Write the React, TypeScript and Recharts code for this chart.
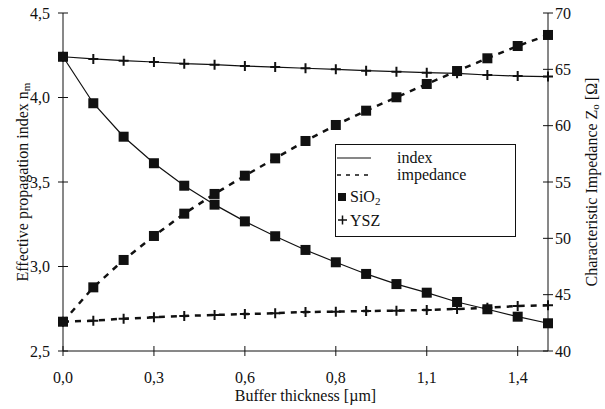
import { Legend, Line, LineChart, XAxis, YAxis, Label } from "recharts";

// buffer thickness in µm, 17 samples across 0..1.5
const thickness = [
  0, 0.09375, 0.1875, 0.28125, 0.375, 0.46875, 0.5625, 0.65625, 0.75,
  0.84375, 0.9375, 1.03125, 1.125, 1.21875, 1.3125, 1.40625, 1.5,
];

// effective propagation index n_m (left axis)
const sio2Index = [
  4.241, 3.966, 3.768, 3.611, 3.478, 3.366, 3.267, 3.179, 3.098, 3.025,
  2.956, 2.896, 2.845, 2.79, 2.747, 2.703, 2.664,
];
const yszIndex = [
  4.241, 4.228, 4.218, 4.21, 4.2, 4.194, 4.186, 4.18, 4.173, 4.167, 4.159,
  4.153, 4.147, 4.143, 4.133, 4.127, 4.124,
];

// characteristic impedance Z_o in ohm (right axis)
const sio2Impedance = [
  42.6, 45.65, 48.08, 50.21, 52.19, 53.94, 55.56, 57.1, 58.64, 60.06, 61.33,
  62.52, 63.7, 64.85, 65.98, 67.07, 68.05,
];
const yszImpedance = [
  42.6, 42.69, 42.87, 42.99, 43.11, 43.2, 43.28, 43.35, 43.46, 43.49, 43.55,
  43.58, 43.64, 43.73, 43.84, 43.99, 44.06,
];

const xTicks = [0, 0.28125, 0.5625, 0.84375, 1.125, 1.40625];
const xTickLabels = ["0,0", "0,3", "0,6", "0,8", "1,1", "1,4"];
const leftTicks = [2.5, 3, 3.5, 4, 4.5];
const leftTickLabels = ["2,5", "3,0", "3,5", "4,0", "4,5"];
const rightTicks = [40, 45, 50, 55, 60, 65, 70];

const data = thickness.map((t, i) => ({
  t,
  sio2Index: sio2Index[i],
  yszIndex: yszIndex[i],
  sio2Impedance: sio2Impedance[i],
  yszImpedance: yszImpedance[i],
}));

const FONT = "'Liberation Serif', 'DejaVu Serif', serif";
const INK = "#111";
const LEFT_GAP = 13;
const RIGHT_GAP = 7;
const BOTTOM_GAP = 21;

const LeftTick = (props: any) => {
  const { x, y, payload, index } = props;
  return (
    <g>
      <line x1={x + LEFT_GAP - 5} x2={x + LEFT_GAP + 5} y1={y} y2={y} stroke={INK} />
      <text x={x} y={y} textAnchor="end" dominantBaseline="central" fontFamily={FONT} fontSize={16} fill={INK}>
        {leftTickLabels[index] ?? payload.value}
      </text>
    </g>
  );
};

const RightTick = (props: any) => {
  const { x, y, payload } = props;
  return (
    <g>
      <line x1={x - RIGHT_GAP - 5} x2={x - RIGHT_GAP + 5} y1={y} y2={y} stroke={INK} />
      <text x={x} y={y} textAnchor="start" dominantBaseline="central" fontFamily={FONT} fontSize={16} fill={INK}>
        {payload.value}
      </text>
    </g>
  );
};

const BottomTick = (props: any) => {
  const { x, y, payload, index } = props;
  return (
    <g>
      <line x1={x} x2={x} y1={y - BOTTOM_GAP - 5} y2={y - BOTTOM_GAP + 5} stroke={INK} />
      <text x={x} y={y} dy="0.71em" textAnchor="middle" fontFamily={FONT} fontSize={16} fill={INK}>
        {xTickLabels[index] ?? payload.value}
      </text>
    </g>
  );
};

const squareDot = (size: number) => (p: any) => (
  <rect
    key={`sq-${p.dataKey}-${p.index}`}
    x={p.cx - size / 2}
    y={p.cy - size / 2}
    width={size}
    height={size}
    fill={INK}
  />
);

const crossDot = (p: any) => (
  <path
    key={`cr-${p.dataKey}-${p.index}`}
    d={`M${p.cx - 5},${p.cy}H${p.cx + 5}M${p.cx},${p.cy - 5}V${p.cy + 5}`}
    stroke={INK}
    strokeWidth={2}
    fill="none"
  />
);

const LeftTitle = (props: any) => {
  const { viewBox } = props;
  const cx = viewBox.x + 22;
  const cy = viewBox.y + viewBox.height / 2;
  return (
    <text x={cx} y={cy} transform={`rotate(-90, ${cx}, ${cy})`} textAnchor="middle" dominantBaseline="central" fontFamily={FONT} fontSize={16} fill={INK}>
      Effective propagation index n
      <tspan fontSize={11} dy={4}>m</tspan>
    </text>
  );
};

const RightTitle = (props: any) => {
  const { viewBox } = props;
  const cx = viewBox.x + 43;
  const cy = viewBox.y + viewBox.height / 2;
  return (
    <text x={cx} y={cy} transform={`rotate(-90, ${cx}, ${cy})`} textAnchor="middle" dominantBaseline="central" fontFamily={FONT} fontSize={16} fill={INK}>
      Characteristic Impedance Z
      <tspan fontSize={11} dy={4}>o</tspan>
      <tspan dy={-4}> [Ω]</tspan>
    </text>
  );
};

const LegendBox = () => (
  <svg width={181} height={93} style={{ display: "block" }}>
    <rect x={0.5} y={0.5} width={180} height={92} fill="#fff" stroke={INK} />
    <line x1={2} x2={36} y1={14} y2={14} stroke={INK} strokeWidth={1.2} />
    <text x={62} y={19} fontFamily={FONT} fontSize={16} fill={INK}>index</text>
    <line x1={2} x2={36} y1={31} y2={31} stroke={INK} strokeWidth={1.5} strokeDasharray="4 5" />
    <text x={62} y={36} fontFamily={FONT} fontSize={16} fill={INK}>impedance</text>
    <rect x={3} y={49} width={8} height={8} fill={INK} />
    <text x={15} y={58} fontFamily={FONT} fontSize={16} fill={INK}>
      SiO<tspan fontSize={11} dy={3}>2</tspan>
    </text>
    <path d="M3,76H12M7.5,71.5V80.5" stroke={INK} strokeWidth={1.5} />
    <text x={15} y={82} fontFamily={FONT} fontSize={16} fill={INK}>YSZ</text>
  </svg>
);

export default function App() {
  return (
    <div style={{ position: "absolute", left: 0, top: 0, width: 605, height: 409, background: "#fff" }}>
      <LineChart
        width={605}
        height={409}
        data={data}
        margin={{ top: 13, right: 0, bottom: 0, left: 0 }}
      >
        <XAxis
          dataKey="t"
          type="number"
          domain={[0, 1.5]}
          ticks={xTicks}
          interval={0}
          height={58}
          tickSize={0}
          tickMargin={BOTTOM_GAP}
          tickLine={false}
          tick={<BottomTick />}
          stroke={INK}
        >
          <Label
            value="Buffer thickness [µm]"
            position="insideBottom"
            offset={8}
            style={{ fontFamily: FONT, fontSize: 16, fill: INK }}
          />
        </XAxis>
        <YAxis
          yAxisId="left"
          orientation="left"
          domain={[2.5, 4.5]}
          ticks={leftTicks}
          interval={0}
          width={63}
          tickSize={0}
          tickMargin={LEFT_GAP}
          tickLine={false}
          tick={<LeftTick />}
          stroke={INK}
        >
          <Label content={<LeftTitle />} />
        </YAxis>
        <YAxis
          yAxisId="right"
          orientation="right"
          domain={[40, 70]}
          ticks={rightTicks}
          interval={0}
          width={57}
          tickSize={0}
          tickMargin={RIGHT_GAP}
          tickLine={false}
          tick={<RightTick />}
          stroke={INK}
        >
          <Label content={<RightTitle />} />
        </YAxis>
        <Legend
          layout="horizontal"
          verticalAlign="middle"
          align="center"
          content={() => <LegendBox />}
          wrapperStyle={{ position: "absolute", left: 335, top: 144, width: 181, height: 93 }}
        />
        <Line
          yAxisId="left"
          dataKey="sio2Index"
          stroke={INK}
          strokeWidth={1.2}
          dot={squareDot(10)}
          isAnimationActive={false}
        />
        <Line
          yAxisId="left"
          dataKey="yszIndex"
          stroke={INK}
          strokeWidth={1.2}
          dot={crossDot}
          isAnimationActive={false}
        />
        <Line
          yAxisId="right"
          dataKey="sio2Impedance"
          stroke={INK}
          strokeWidth={2.5}
          strokeDasharray="6 6"
          dot={squareDot(10)}
          isAnimationActive={false}
        />
        <Line
          yAxisId="right"
          dataKey="yszImpedance"
          stroke={INK}
          strokeWidth={2.5}
          strokeDasharray="6 6"
          dot={crossDot}
          isAnimationActive={false}
        />
      </LineChart>
    </div>
  );
}
